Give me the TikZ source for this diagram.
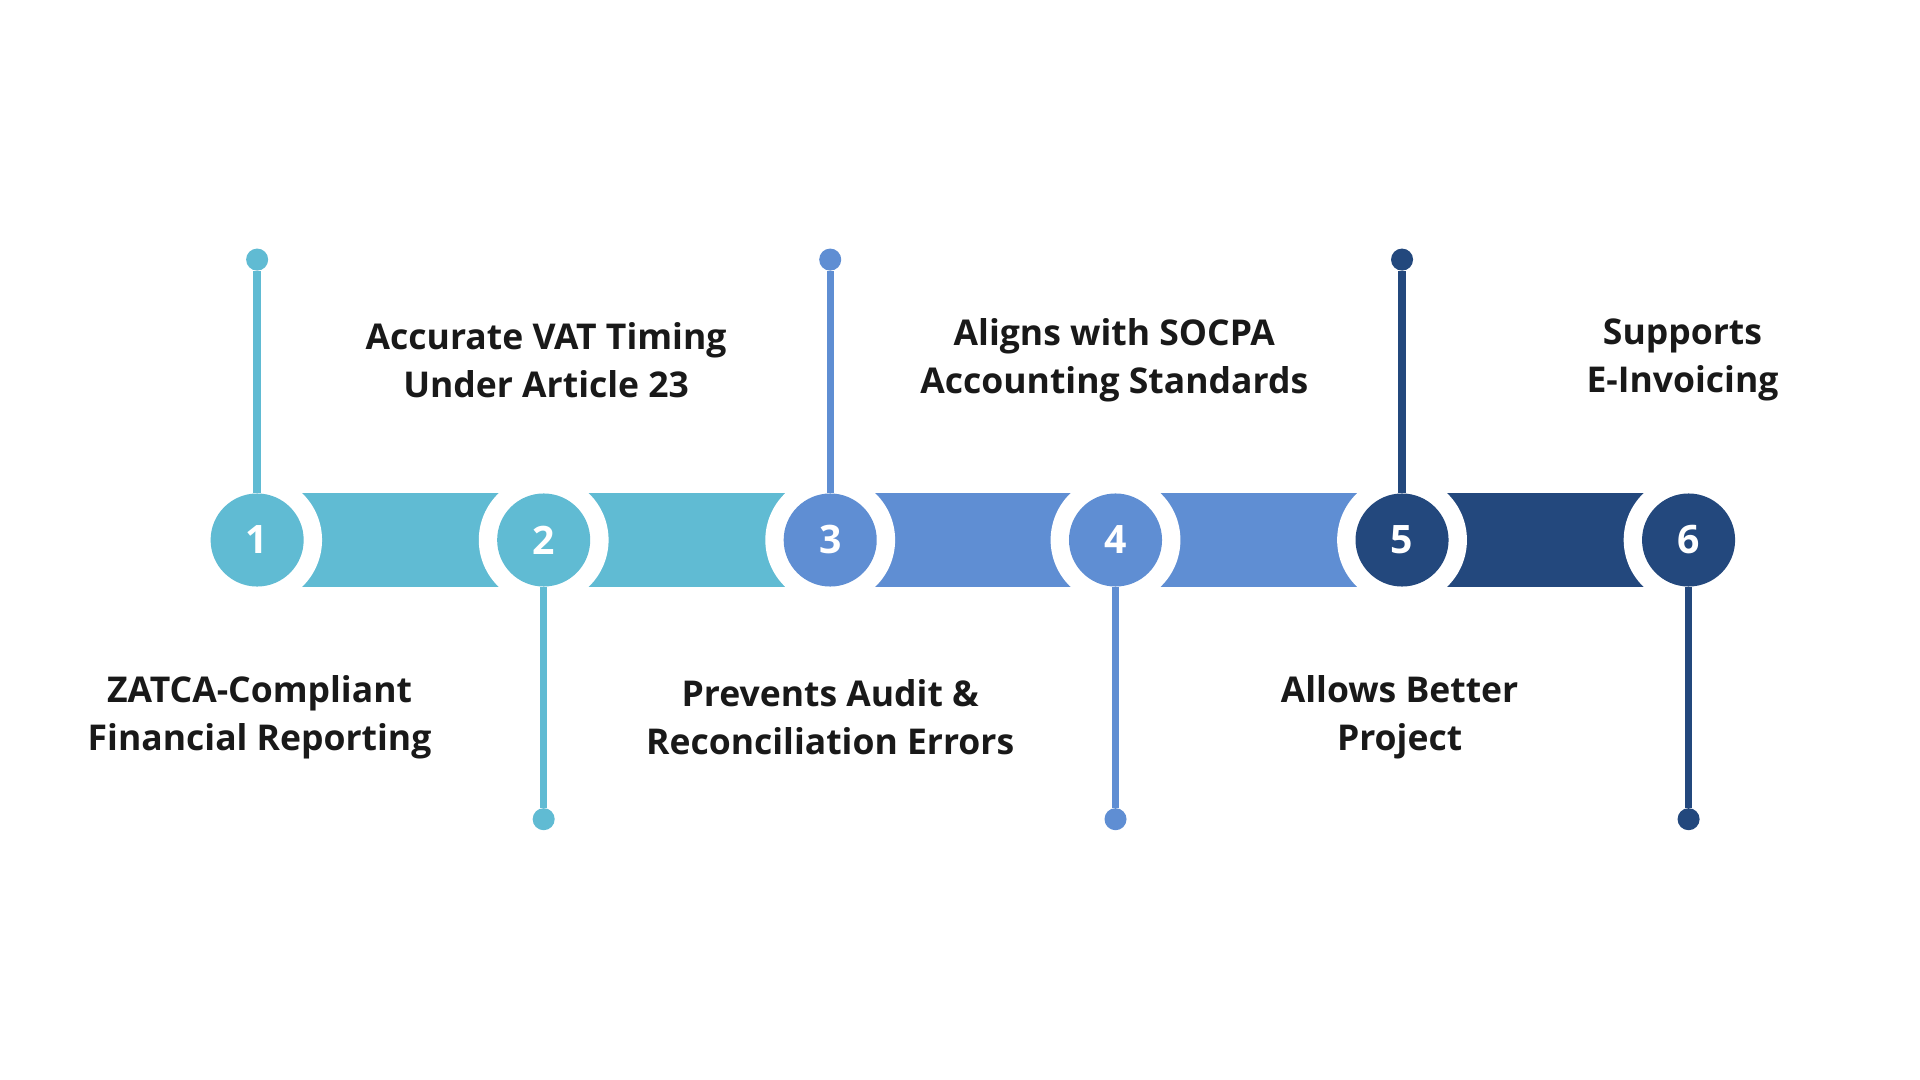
\documentclass[tikz,border=0pt]{standalone}
\usepackage{fontspec}
\setmainfont{Open Sans}
\definecolor{cA}{HTML}{60BBD3}
\definecolor{cB}{HTML}{5F8ED3}
\definecolor{cC}{HTML}{23487D}
\begin{document}
\begin{tikzpicture}[x=1pt,y=-1pt,
  num/.style={circle,minimum size=76pt,inner sep=0,text=white,font=\fontsize{32}{36}\selectfont\bfseries},
  lbl/.style={align=center,font=\fontsize{29}{39}\selectfont\bfseries,text=black!90},
  pin/.style={line width=6pt},
  dotc/.style={circle,minimum size=18pt,inner sep=0}]
\useasboundingbox[fill=white] (0,0) rectangle (1568,882);
% bars
\fill[cA] (210,403) rectangle (678,479);
\fill[cB] (678,403) rectangle (1145,479);
\fill[cC] (1145,403) rectangle (1379,479);
\foreach \x in {210,444,678,911,1145,1379} \fill[white] (\x,441) circle (53);
\node[num,fill=cA] (n1) at (210,441) {1};
\node[num,fill=cA] (n2) at (444,441) {2};
\node[num,fill=cB] (n3) at (678,441) {3};
\node[num,fill=cB] (n4) at (911,441) {4};
\node[num,fill=cC] (n5) at (1145,441) {5};
\node[num,fill=cC] (n6) at (1379,441) {6};
\node[dotc,fill=cA] (d1) at (210,212) {};
\node[dotc,fill=cA] (d2) at (444,669) {};
\node[dotc,fill=cB] (d3) at (678,212) {};
\node[dotc,fill=cB] (d4) at (911,669) {};
\node[dotc,fill=cC] (d5) at (1145,212) {};
\node[dotc,fill=cC] (d6) at (1379,669) {};
\draw[pin,cA] (n1) -- (d1);
\draw[pin,cA] (n2) -- (d2);
\draw[pin,cB] (n3) -- (d3);
\draw[pin,cB] (n4) -- (d4);
\draw[pin,cC] (n5) -- (d5);
\draw[pin,cC] (n6) -- (d6);
\node[lbl] (l2) at (446,294) {Accurate VAT Timing\\Under Article 23};
\node[lbl] (l4) at (910,294) {Aligns with SOCPA\\Accounting Standards};
\node[lbl] (l6) at (1374,294) {Supports\\E-Invoicing};
\node[lbl] (l1) at (212,586) {ZATCA-Compliant\\Financial Reporting};
\node[lbl] (l3) at (678,586) {Prevents Audit \&\\Reconciliation Errors};
\node[lbl] (l5) at (1143,586) {Allows Better\\Project};
\end{tikzpicture}
\end{document}
